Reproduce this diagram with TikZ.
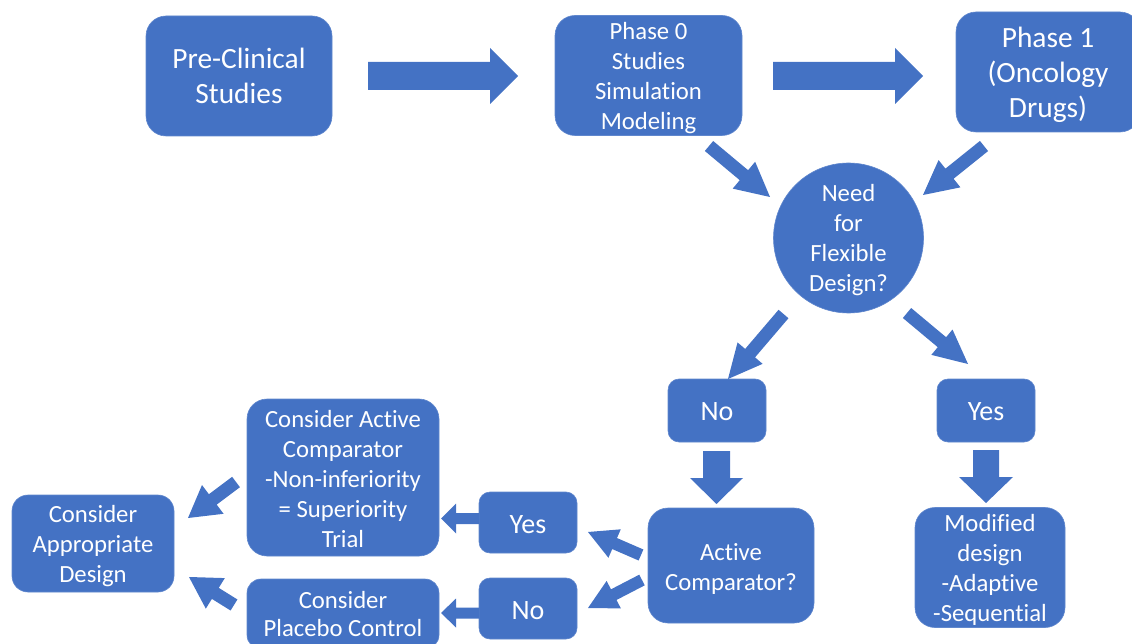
\documentclass[tikz,border=0pt]{standalone}
\usepackage{fontspec}
\setmainfont{Carlito}[Ligatures=NoCommon]
\usetikzlibrary{calc}
\definecolor{boxblue}{HTML}{4472C4}
\tikzset{
  box/.style={fill=boxblue, draw=boxblue!85!white, line width=0.6pt, text=white, align=center, inner sep=0pt, rounded corners=18pt},
  bigtext/.style={font=\fontsize{29.4}{35}\selectfont},
  midtext/.style={font=\fontsize{24.7}{30}\selectfont},
  yntext/.style={font=\fontsize{28}{33}\selectfont},
  arrowfill/.style={fill=boxblue},
}
% lowered text block that keeps its size for centering: lowering (pt), lines
\newcommand\lowlines[2]{\raisebox{-#1pt}[\height][\depth]{\begin{tabular}{@{}c@{}}#2\end{tabular}}}
% block arrow: tail, tip, shaft half width, head half width, head length (pt)
\newcommand\barrow[5]{%
  \path ($(#2)!#5pt!(#1)$) coordinate (hb);
  \fill[arrowfill] ($(#1)!#3pt!90:(#2)$) -- ($(hb)!#3pt!90:(#2)$) -- ($(hb)!#4pt!90:(#2)$) -- (#2)
    -- ($(hb)!#4pt!-90:(#2)$) -- ($(hb)!#3pt!-90:(#2)$) -- ($(#1)!#3pt!-90:(#2)$) -- cycle;}
\begin{document}
\begin{tikzpicture}[x=1pt,y=-1pt]
\useasboundingbox (0,0) rectangle (1132,644);
\clip (0,0) rectangle (1132,644);
% nodes
\node[box, bigtext, minimum width=186pt, minimum height=120pt, rounded corners=20pt] (pre) at (239,76) {\lowlines{3}{Pre-Clinical\\Studies}};
\node[box, midtext, minimum width=187pt, minimum height=119pt, rounded corners=20pt] (ph0) at (648.5,75.5) {\lowlines{3.5}{Phase 0\\Studies\\Simulation\\Modeling}};
\node[box, bigtext, minimum width=184pt, minimum height=120pt, rounded corners=20pt] (ph1) at (1048,72) {\lowlines{4}{Phase 1\\(Oncology\\Drugs)}};
\node[circle, fill=boxblue, draw=boxblue!85!white, line width=0.6pt, text=white, align=center, inner sep=0pt, minimum size=150pt, midtext] (flex) at (848.5,238) {\lowlines{3}{Need\\for\\Flexible\\Design?}};
\node[box, yntext, minimum width=98pt, minimum height=63pt, rounded corners=11pt] (no1) at (717,410.5) {\lowlines{3}{No}};
\node[box, yntext, minimum width=98pt, minimum height=63pt, rounded corners=11pt] (yes1) at (986,410.5) {\lowlines{3}{Yes}};
\node[box, midtext, minimum width=166pt, minimum height=115pt, rounded corners=20pt] (act) at (731,565.5) {\lowlines{4}{Active\\Comparator?}};
\node[box, midtext, minimum width=150pt, minimum height=115pt, rounded corners=20pt] (mod) at (990,567.5) {\lowlines{3}{Modified\\design\\-Adaptive\\-Sequential}};
\node[box, yntext, minimum width=98pt, minimum height=61pt, rounded corners=11pt] (yes2) at (528,522.5) {\lowlines{4}{Yes}};
\node[box, yntext, minimum width=98pt, minimum height=61pt, rounded corners=11pt] (no2) at (528,608.5) {\lowlines{4.5}{No}};
\node[box, midtext, minimum width=192pt, minimum height=157pt, rounded corners=20pt] (cac) at (343,477.5) {\lowlines{4}{Consider Active\\Comparator\\-Non-inferiority\\= Superiority\\Trial}};
\node[box, font=\fontsize{24.7}{28}\selectfont, minimum width=192pt, minimum height=70pt, rounded corners=14pt] (plc) at (343,614) {\lowlines{3}{Consider\\Placebo Control}};
\node[box, midtext, minimum width=162pt, minimum height=97pt, rounded corners=16pt] (app) at (93,543.5) {\lowlines{2.5}{Consider\\Appropriate\\Design}};
% arrow end points
\coordinate (a1t) at (368,76);    \coordinate (a1h) at (518,76);
\coordinate (a2t) at (773,76);    \coordinate (a2h) at (923,76);
\coordinate (a3t) at (709,146);   \coordinate (a3h) at (770,197);
\coordinate (a4t) at (984,146);   \coordinate (a4h) at (923,195);
\coordinate (a5t) at (783.5,314); \coordinate (a5h) at (728,379);
\coordinate (a6t) at (907,313);   \coordinate (a6h) at (968,364);
\coordinate (a7t) at (716.5,451); \coordinate (a7h) at (716.5,504);
\coordinate (a8t) at (986,450);   \coordinate (a8h) at (986,503);
\coordinate (a9t) at (641,555);   \coordinate (a9h) at (588,532);
\coordinate (a10t) at (642,580);  \coordinate (a10h) at (588,608);
\coordinate (a11t) at (479,518.5);\coordinate (a11h) at (441,518.5);
\coordinate (a12t) at (479,613);  \coordinate (a12h) at (441,613);
\coordinate (a13t) at (236,482);  \coordinate (a13h) at (188,518);
\coordinate (a14t) at (234,605);  \coordinate (a14h) at (189,577);
% arrows
\barrow{a1t}{a1h}{14}{28}{28}
\barrow{a2t}{a2h}{14}{28}{28}
\barrow{a3t}{a3h}{6.5}{17.5}{34}
\barrow{a4t}{a4h}{6.5}{17.5}{34}
\barrow{a5t}{a5h}{6.5}{16.5}{34}
\barrow{a6t}{a6h}{6.5}{16.5}{34}
\barrow{a7t}{a7h}{13.5}{26.5}{26}
\barrow{a8t}{a8h}{13}{27}{26}
\barrow{a9t}{a9h}{6}{15.5}{29}
\barrow{a10t}{a10h}{6}{15.5}{29}
\barrow{a11t}{a11h}{5.5}{15}{15}
\barrow{a12t}{a12h}{5.5}{14.5}{15}
\barrow{a13t}{a13h}{6.5}{18}{31}
\barrow{a14t}{a14h}{6.5}{18}{31}
\end{tikzpicture}
\end{document}
